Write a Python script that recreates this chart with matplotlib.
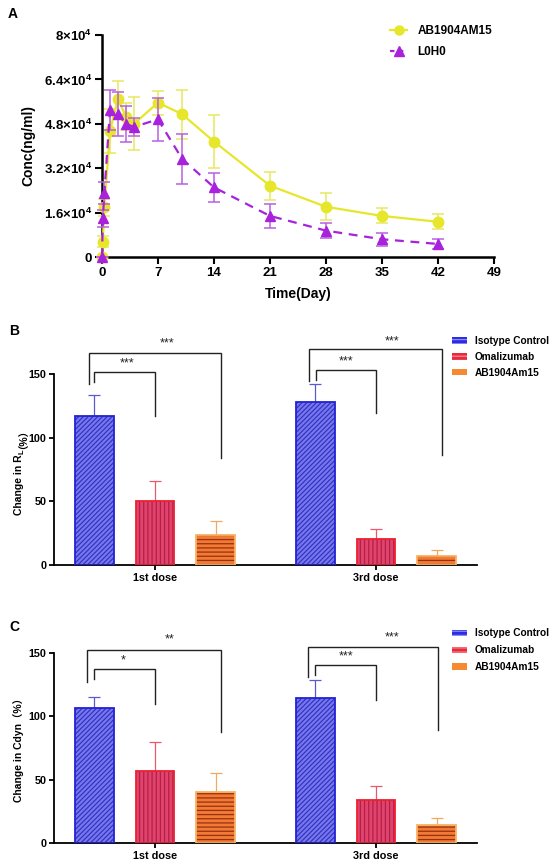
import matplotlib
matplotlib.use('Agg')
import matplotlib.pyplot as plt
from matplotlib.patches import Patch
from matplotlib.lines import Line2D
import numpy as np

plt.rcParams['font.family'] = ['Liberation Sans', 'DejaVu Sans']
plt.rcParams['mathtext.fontset'] = 'custom'
plt.rcParams['mathtext.rm'] = 'Liberation Sans'
plt.rcParams['mathtext.bf'] = 'Liberation Sans:bold'
plt.rcParams['hatch.linewidth'] = 0.9

# ---------------- Panel A data ----------------
time_days = [0, 0.1, 0.3, 1, 2, 3, 4, 7, 10, 14, 21, 28, 35, 42]
ab1904_conc = [0, 5.5e3, 17.9e3, 45.4e3, 57.0e3, 50.6e3, 48.0e3, 55.6e3, 51.5e3, 41.6e3, 25.7e3, 18.1e3, 14.8e3, 12.7e3]
ab1904_err = [0, 2.0e3, 3.0e3, 8.0e3, 6.6e3, 5.0e3, 9.6e3, 4.4e3, 8.8e3, 9.6e3, 5.1e3, 4.8e3, 2.7e3, 2.7e3]
l0h0_conc = [0, 13.9e3, 23.2e3, 53.0e3, 51.5e3, 47.9e3, 46.9e3, 49.6e3, 35.4e3, 25.1e3, 14.8e3, 9.5e3, 6.4e3, 4.7e3]
l0h0_err = [0, 3.0e3, 4.0e3, 7.2e3, 8.0e3, 6.6e3, 3.2e3, 7.8e3, 9.1e3, 5.3e3, 4.2e3, 2.8e3, 2.4e3, 1.8e3]
a_xticks = [0, 7, 14, 21, 28, 35, 42, 49]
a_yticks = [0, 1.6e4, 3.2e4, 4.8e4, 6.4e4, 8e4]
a_yticklabels = ['0', r'1.6×10$^{\mathbf{4}}$', r'3.2×10$^{\mathbf{4}}$', r'4.8×10$^{\mathbf{4}}$',
                 r'6.4×10$^{\mathbf{4}}$', r'8×10$^{\mathbf{4}}$']

# ---------------- Panels B / C data ----------------
doses = ['1st dose', '3rd dose']
treatments = ['Isotype Control', 'Omalizumab', 'AB1904Am15']
rl_isotype = [117.4, 128.2]
rl_isotype_err = [16.3, 13.9]
rl_omalizumab = [50.6, 20.7]
rl_omalizumab_err = [15.7, 7.4]
rl_ab1904 = [23.6, 7.3]
rl_ab1904_err = [10.8, 4.3]
cdyn_isotype = [106.7, 114.5]
cdyn_isotype_err = [8.6, 14.0]
cdyn_omalizumab = [57.1, 34.1]
cdyn_omalizumab_err = [22.3, 11.0]
cdyn_ab1904 = [40.1, 14.4]
cdyn_ab1904_err = [15.0, 5.3]
rl_sig = ['***', '***', '***', '***']      # (1st inner, 1st outer, 3rd inner, 3rd outer)
cdyn_sig = ['*', '**', '***', '***']

W, H = 560, 864
fig = plt.figure(figsize=(W / 100, H / 100), dpi=100)

# ================= Panel A =================
axA = fig.add_axes([102 / W, 1 - 257 / H, 392 / W, 222 / H])
yellow = '#e6e62a'
purple = '#a822dc'
axA.errorbar(time_days, ab1904_conc, yerr=ab1904_err, color=yellow, lw=1.6, marker='o', ms=7.5,
             ecolor='#e8e860', elinewidth=1.1, capsize=4.5, capthick=1.1, clip_on=False, zorder=3)
axA.errorbar(time_days, l0h0_conc, yerr=l0h0_err, color=purple, lw=1.6, ls=(0, (4, 3)), marker='^', ms=7.5,
             ecolor='#b860e0', elinewidth=1.1, capsize=4.5, capthick=1.1, clip_on=False, zorder=4)
axA.set_xlim(0, 49)
axA.set_ylim(0, 8e4)
axA.set_xticks(a_xticks)
axA.set_yticks(a_yticks)
axA.set_yticklabels(a_yticklabels)
for lab in axA.get_xticklabels():
    lab.set_fontweight('bold'); lab.set_fontsize(9.5)
for lab in axA.get_yticklabels():
    lab.set_fontweight('bold'); lab.set_fontsize(9.5)
axA.spines['top'].set_visible(False)
axA.spines['right'].set_visible(False)
for s in ['left', 'bottom']:
    axA.spines[s].set_linewidth(1.8)
axA.tick_params(width=1.5, length=5, pad=2)
axA.set_xlabel('Time(Day)', fontsize=10, fontweight='bold', labelpad=6)
axA.set_ylabel('Conc(ng/ml)', fontsize=10, fontweight='bold', labelpad=6)
hA = [Line2D([], [], color=yellow, marker='o', ms=6.5, lw=1.6),
      Line2D([], [], color=purple, marker='^', ms=6.5, lw=1.6, ls=(0, (2, 2)))]
fig.legend(hA, ['AB1904AM15', 'L0H0'], loc='upper left', bbox_to_anchor=(390 / W, 1 - 25 / H),
           frameon=False, prop={'weight': 'bold', 'size': 8.5}, handlelength=1.45,
           handletextpad=0.9, labelspacing=0.8, borderpad=0, borderaxespad=0)
fig.text(13 / W, 1 - 14 / H, 'A', fontsize=10, fontweight='bold', ha='center', va='center')

# ================= Panels B / C =================
styles = [
    dict(fill='#7878ee', hatch='///////', hcol='#3434c4', edge='#2222d4', ecol='#5a5ad0'),
    dict(fill='#e0446c', hatch='||||', hcol='#b41e48', edge='#ee2030', ecol='#e85a6a'),
    dict(fill='#f27a35', hatch='----', hcol='#963210', edge='#f9b262', ecol='#f2a860'),
]
offsets = [-0.274, 0.0, 0.274]
bw = 0.176


def bar_panel(ax, means, errs, sigs, brackets, sig_pos):
    x = np.arange(len(doses))
    for i in range(3):
        st = styles[i]
        ax.bar(x + offsets[i], means[i], width=bw, color=st['fill'], edgecolor=st['hcol'],
               hatch=st['hatch'], linewidth=0, zorder=2)
        ax.bar(x + offsets[i], means[i], width=bw, facecolor='none', edgecolor=st['edge'],
               linewidth=1.3, zorder=3)
        ax.errorbar(x + offsets[i], means[i], yerr=[np.zeros(len(x)), errs[i]], fmt='none',
                    ecolor=st['ecol'], elinewidth=0.9, capsize=4.3, capthick=0.9, zorder=1)
    for (x1, x2, top, yl, yr), s, (tx, ty) in zip(brackets, sigs, sig_pos):
        ax.plot([x1, x1, x2, x2], [yl, top, top, yr], color='#222222', lw=1.0, clip_on=False,
                solid_joinstyle='miter')
        ax.text(tx, ty, s, ha='center', va='center', fontsize=9, color='#222222', clip_on=False)
    ax.set_xlim(-0.457, 1.457)
    ax.set_ylim(0, 150)
    ax.set_yticks([0, 50, 100, 150])
    ax.set_xticks(x)
    ax.set_xticklabels(doses)
    for lab in ax.get_xticklabels() + ax.get_yticklabels():
        lab.set_fontweight('bold'); lab.set_fontsize(7.8)
    ax.spines['top'].set_visible(False)
    ax.spines['right'].set_visible(False)
    for s in ['left', 'bottom']:
        ax.spines[s].set_linewidth(1.3)
    ax.tick_params(width=1.3, length=3.5, pad=2)
    handles = [Patch(facecolor='#2c2ce6', edgecolor='#8c8cf4', hatch='----', linewidth=0),
               Patch(facecolor='#ea2a3c', edgecolor='#f08a90', hatch='----', linewidth=0),
               Patch(facecolor='#f58a30', edgecolor='#f58a30', linewidth=0)]
    return handles


axB = fig.add_axes([54 / W, 1 - 565 / H, 423 / W, 190.7 / H])
rl_brackets = [(-0.274, 0.0, 152.0, 144.2, 117.2), (-0.30, 0.297, 167.0, 142.4, 83.9),
               (0.727, 1.0, 153.4, 145.5, 119.3), (0.697, 1.297, 169.7, 145.0, 86.5)]
rl_sig_pos = [(-0.127, 158.9), (0.053, 174.6), (0.863, 160.3), (1.074, 176.2)]
hB = bar_panel(axB, [rl_isotype, rl_omalizumab, rl_ab1904],
               [rl_isotype_err, rl_omalizumab_err, rl_ab1904_err], rl_sig, rl_brackets, rl_sig_pos)
fig.legend(hB, treatments, loc='upper left', bbox_to_anchor=(451.5 / W, 1 - 336 / H), frameon=False,
           prop={'weight': 'bold', 'size': 7.3}, handlelength=1.5, handleheight=0.6,
           handletextpad=0.8, labelspacing=0.58, borderpad=0, borderaxespad=0)
fig.text(14 / W, 1 - 331 / H, 'B', fontsize=10, fontweight='bold', ha='center', va='center')

axC = fig.add_axes([54 / W, 1 - 843.3 / H, 423 / W, 190.7 / H])
cdyn_brackets = [(-0.274, 0.0, 137.1, 129.0, 109.3), (-0.306, 0.297, 152.0, 127.1, 87.8),
                 (0.724, 1.0, 140.2, 132.4, 112.7), (0.694, 1.282, 154.2, 131.1, 89.1)]
cdyn_sig_pos = [(-0.143, 144.0), (0.068, 160.2), (0.863, 147.1), (1.074, 162.0)]
hC = bar_panel(axC, [cdyn_isotype, cdyn_omalizumab, cdyn_ab1904],
               [cdyn_isotype_err, cdyn_omalizumab_err, cdyn_ab1904_err], cdyn_sig, cdyn_brackets,
               cdyn_sig_pos)
fig.legend(hC, treatments, loc='upper left', bbox_to_anchor=(451.5 / W, 1 - 628.5 / H), frameon=False,
           prop={'weight': 'bold', 'size': 7.3}, handlelength=1.5, handleheight=0.6,
           handletextpad=0.8, labelspacing=0.68, borderpad=0, borderaxespad=0)
fig.text(14 / W, 1 - 627 / H, 'C', fontsize=10, fontweight='bold', ha='center', va='center')

# y labels for B (with subscript) and C
renderer = fig.canvas.get_renderer()
cjk = ['Liberation Sans', 'Noto Sans CJK SC']
pieces = [('Change in R', dict(fontsize=7.5, fontweight='bold'), 0.0),
          ('L', dict(fontsize=5.5, fontweight='bold'), 2.0),
          ('（%）', dict(fontsize=7.5, fontweight='bold', family=cjk), 0.0)]
texts, lengths = [], []
for s, kw, dx in pieces:
    t = fig.text(0, 0, s, rotation=90, rotation_mode='anchor', ha='left', va='baseline', **kw)
    lengths.append(t.get_window_extent(renderer).height)
    texts.append(t)
yb = (H - 467) - sum(lengths) / 2
for t, (s, kw, dx), L in zip(texts, pieces, lengths):
    t.set_position(((22 + dx) / W, yb / H))
    yb += L

fig.text(19 / W, 1 - 748 / H, 'Change in Cdyn（%）', rotation=90, ha='center', va='center',
         fontsize=7.5, fontweight='bold', family=cjk)

fig.savefig('out.png', dpi=100)
